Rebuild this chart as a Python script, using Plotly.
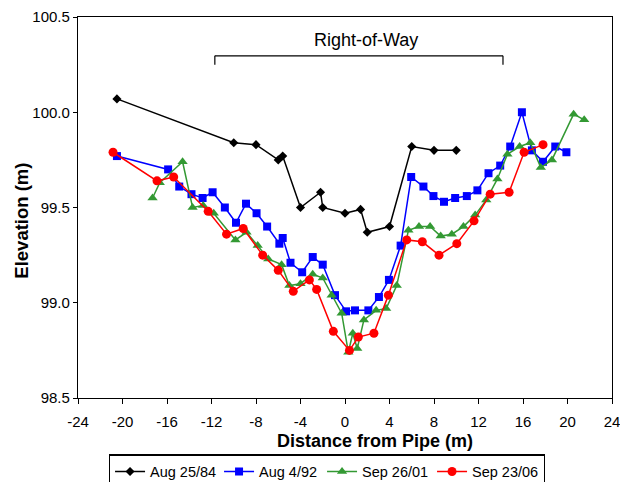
import plotly.graph_objects as go

# ---- data ----
x_84 = [-20.5, -10, -8, -6, -5.6, -4, -2.2, -2, 0, 1.4, 2, 4, 6, 8, 10]
y_84 = [100.07, 99.84, 99.83, 99.75, 99.77, 99.50, 99.58, 99.50, 99.47, 99.49, 99.37, 99.40, 99.82, 99.80, 99.80]

x_92 = [-20.5, -15.9, -14.9, -13.8, -12.8, -11.9, -10.8, -9.8, -8.9, -7.95, -7.0, -5.9, -5.6, -4.9,
        -3.85, -2.9, -2.0, -0.9, 0.1, 0.9, 2.1, 3.05, 3.95, 5.0, 5.95, 7.05, 7.95, 8.9, 9.9, 10.95,
        11.9, 12.9, 13.95, 14.85, 15.9, 16.8, 17.8, 18.9, 19.9]
y_92 = [99.77, 99.70, 99.61, 99.57, 99.55, 99.58, 99.50, 99.42, 99.52, 99.47, 99.40, 99.31, 99.34, 99.21,
        99.16, 99.24, 99.20, 99.04, 98.955, 98.96, 98.96, 99.03, 99.12, 99.30, 99.66, 99.61, 99.56, 99.53,
        99.55, 99.56, 99.59, 99.68, 99.72, 99.82, 100.0, 99.80, 99.74, 99.82, 99.79]

x_01 = [-17.3, -16.65, -14.6, -13.7, -12.75, -11.8, -9.85, -8.85, -7.85, -6.9, -5.7, -5.0, -4.0, -2.9,
        -2.0, -1.2, -0.3, 0.3, 0.7, 1.1, 1.7, 2.8, 3.7, 4.65, 5.7, 6.65, 7.65, 8.6, 9.6, 10.65, 11.7,
        12.7, 13.7, 14.6, 15.7, 16.65, 17.6, 18.6, 20.55, 21.5]
y_01 = [99.55, 99.63, 99.74, 99.50, 99.51, 99.47, 99.33, 99.37, 99.30, 99.23, 99.20, 99.09, 99.10, 99.15,
        99.13, 99.04, 98.945, 98.74, 98.84, 98.76, 98.91, 98.96, 98.97, 99.09, 99.38, 99.40, 99.40, 99.35,
        99.36, 99.40, 99.46, 99.54, 99.65, 99.78, 99.82, 99.84, 99.71, 99.75, 99.99, 99.96]

x_06 = [-20.85, -16.9, -15.4, -12.3, -10.65, -9.15, -7.4, -6.0, -4.65, -3.2, -2.55, -1.05, 0.4, 1.2,
        2.6, 3.9, 5.55, 6.95, 8.45, 10.05, 11.6, 13.05, 14.75, 16.1, 17.8]
y_06 = [99.79, 99.64, 99.66, 99.48, 99.36, 99.39, 99.25, 99.17, 99.06, 99.12, 99.07, 98.85, 98.75, 98.82,
        98.84, 99.04, 99.33, 99.32, 99.25, 99.31, 99.43, 99.57, 99.58, 99.79, 99.83]

series_names = ["Aug 25/84", "Aug 4/92", "Sep 26/01", "Sep 23/06"]
x_ticks = [-24, -20, -16, -12, -8, -4, 0, 4, 8, 12, 16, 20, 24]
y_ticks = [98.5, 99.0, 99.5, 100.0, 100.5]

row_start, row_end = -11.7, 14.2          # Right-of-Way bracket extent (m)
row_level, row_drop = 100.296, 100.249    # bracket elevation and tick bottom
row_label = "Right-of-Way"
row_label_x, row_label_y = 1.9, 100.38

FONT = "Liberation Sans, Arial, sans-serif"

fig = go.Figure()
styles = [
    dict(color="black", symbol="diamond", size=7, lw=64),
    dict(color="#0000ff", symbol="square", size=8, lw=58),
    dict(color="#339933", symbol="triangle-up", size=9, lw=65),
    dict(color="#ff0000", symbol="circle", size=9, lw=66),
]
data = [(x_84, y_84), (x_92, y_92), (x_01, y_01), (x_06, y_06)]
for (xs, ys), name, st in zip(data, series_names, styles):
    fig.add_trace(go.Scatter(
        x=xs, y=ys, mode="lines+markers", name=name, legendwidth=st["lw"],
        line=dict(color=st["color"], width=1.5),
        marker=dict(color=st["color"], symbol=st["symbol"], size=st["size"], line=dict(width=0)),
    ))

# Right-of-Way bracket
for x0, x1, y0, y1 in [(row_start, row_end, row_level, row_level),
                       (row_start, row_start, row_level, row_drop),
                       (row_end, row_end, row_level, row_drop)]:
    fig.add_shape(type="line", xref="x", yref="y", x0=x0, x1=x1, y0=y0, y1=y1,
                  line=dict(color="black", width=1.2))
fig.add_annotation(x=row_label_x, y=row_label_y, xref="x", yref="y", text=row_label,
                   showarrow=False, yanchor="middle", font=dict(family=FONT, size=18, color="black"))

# axis titles (placed as annotations to match the reference offsets)
fig.add_annotation(x=0.556, y=-0.1125, xref="paper", yref="paper", text="<b>Distance from Pipe (m)</b>",
                   showarrow=False, xanchor="center", yanchor="middle",
                   font=dict(family=FONT, size=18, color="black"))
fig.add_annotation(x=-0.1074, y=0.4645, xref="paper", yref="paper", text="<b>Elevation (m)</b>",
                   showarrow=False, textangle=-90, xanchor="center", yanchor="middle",
                   font=dict(family=FONT, size=18.5, color="black"))

axis_common = dict(showgrid=False, zeroline=False, showline=True, linecolor="black", linewidth=1.2,
                   mirror=True, ticks="outside", tickcolor="black", automargin=False,
                   ticklabeloverflow="allow",
                   tickfont=dict(family=FONT, size=15, color="black"))

fig.update_layout(
    width=620, height=482,
    margin=dict(l=78.3, r=8.3, t=17.3, b=84.3, autoexpand=False),
    paper_bgcolor="white", plot_bgcolor="white",
    xaxis=dict(range=[-24, 24], tickvals=x_ticks, ticktext=[str(v) for v in x_ticks],
               ticklen=5, ticklabelstandoff=5, **axis_common),
    yaxis=dict(range=[98.5, 100.5], tickvals=y_ticks, ticktext=[f"{v:.1f}" for v in y_ticks],
               ticklen=4, **axis_common),
    legend=dict(orientation="h", x=0.466, xanchor="center", y=-0.148, yanchor="top",
                bordercolor="black", borderwidth=1.2, font=dict(family=FONT, size=14.5, color="black"),
                itemwidth=30, tracegroupgap=0),
    showlegend=True,
)

# remove the browser's default 8px page margin so the figure sits at the window origin
fig.write_html("out.html", config={"displayModeBar": False},
               post_script="document.body.style.margin='0';document.body.style.overflow='hidden';")
